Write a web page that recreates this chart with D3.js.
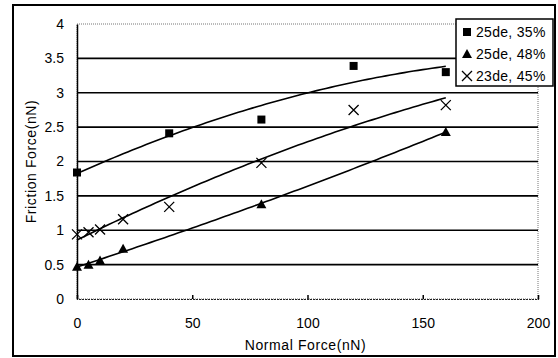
<!DOCTYPE html>
<html>
<head>
<meta charset="utf-8">
<script src="https://cdn.jsdelivr.net/npm/d3@7"></script>
<style>
  body { margin: 0; background: #fff; }
  svg { display: block; font-family: "Liberation Sans", Arial, sans-serif; }
</style>
</head>
<body>
<div id="chart"></div>
<script>
// data
const seriesNames = ['25de, 35%', '25de, 48%', '23de, 45%'];
const sqX = [0, 40, 80, 120, 160];
const sqY = [1.84, 2.41, 2.61, 3.39, 3.3];
const triX = [0, 5, 10, 20, 80, 160];
const triY = [0.47, 0.5, 0.56, 0.73, 1.38, 2.43];
const crossX = [0, 5, 10, 20, 40, 80, 120, 160];
const crossY = [0.94, 0.97, 1.01, 1.16, 1.34, 1.98, 2.75, 2.82];
const xTicks = [0, 50, 100, 150, 200];
const yTicks = [0, 0.5, 1, 1.5, 2, 2.5, 3, 3.5, 4];

const width = 558, height = 358;
const margin = { left: 77, right: 20, top: 24, bottom: 59 };

const svg = d3.select('#chart').append('svg')
  .attr('width', width)
  .attr('height', height);

const x = d3.scaleLinear().domain([0, 200]).range([margin.left, width - margin.right]);
const y = d3.scaleLinear().domain([0, 4]).range([height - margin.bottom, margin.top]);

// outer frame
svg.append('rect')
  .attr('x', 13).attr('y', 5)
  .attr('width', 542).attr('height', 351)
  .attr('fill', '#fff')
  .attr('stroke', '#000')
  .attr('stroke-width', 2);

// plot area border (dotted, like excel)
svg.append('rect')
  .attr('x', x(0)).attr('y', y(4))
  .attr('width', x(200) - x(0)).attr('height', y(0) - y(4))
  .attr('fill', 'none')
  .attr('stroke', '#777')
  .attr('stroke-dasharray', '1,1');

// horizontal gridlines
svg.append('g')
  .selectAll('line')
  .data(yTicks.filter(d => d > 0 && d < 4))
  .join('line')
  .attr('x1', x(0)).attr('x2', x(200))
  .attr('y1', d => y(d)).attr('y2', d => y(d))
  .attr('stroke', '#000')
  .attr('stroke-width', 1.6);

// y axis
const yAxis = svg.append('g')
  .attr('transform', `translate(${x(0)},0)`)
  .call(d3.axisLeft(y).tickValues(yTicks).tickSize(0).tickPadding(13)
    .tickFormat(d => d3.format('')(d)));
yAxis.select('.domain').attr('stroke', '#000').attr('stroke-width', 1.5);
yAxis.selectAll('text')
  .attr('fill', '#000')
  .style('font-size', '14px')
  .style('font-family', '"Liberation Sans", Arial, sans-serif');

// x axis
const xAxis = svg.append('g')
  .attr('transform', `translate(0,${y(0)})`)
  .call(d3.axisBottom(x).tickValues(xTicks).tickSize(-4).tickPadding(19));
xAxis.select('.domain').attr('stroke', '#222').attr('stroke-width', 1.2).attr('stroke-dasharray', '2,1');
xAxis.selectAll('.tick line').attr('stroke', '#000').attr('stroke-width', 1.5);
xAxis.selectAll('text')
  .attr('fill', '#000')
  .style('font-size', '14px')
  .style('font-family', '"Liberation Sans", Arial, sans-serif');

// axis titles
svg.append('text')
  .attr('x', (x(0) + x(200)) / 2 - 2)
  .attr('y', 350)
  .attr('text-anchor', 'middle')
  .style('font-size', '14px')
  .style('letter-spacing', '0.6px')
  .text('Normal Force(nN)');

svg.append('text')
  .attr('transform', `translate(36,${(y(0) + y(4)) / 2}) rotate(-90)`)
  .attr('text-anchor', 'middle')
  .style('font-size', '14px')
  .style('letter-spacing', '0.6px')
  .text('Friction Force(nN)');

// quadratic least-squares trend line, like the excel polynomial trendline
function polyfit2(xs, ys) {
  const n = xs.length;
  let s = [0, 0, 0, 0, 0], t = [0, 0, 0];
  for (let i = 0; i < n; i++) {
    let p = 1;
    for (let k = 0; k < 5; k++) { s[k] += p; if (k < 3) t[k] += p * ys[i]; p *= xs[i]; }
  }
  const A = [[s[0], s[1], s[2]], [s[1], s[2], s[3]], [s[2], s[3], s[4]]];
  const b = t.slice();
  // gaussian elimination
  for (let i = 0; i < 3; i++) {
    for (let j = i + 1; j < 3; j++) {
      const f = A[j][i] / A[i][i];
      for (let k = i; k < 3; k++) A[j][k] -= f * A[i][k];
      b[j] -= f * b[i];
    }
  }
  const c = [0, 0, 0];
  for (let i = 2; i >= 0; i--) {
    let v = b[i];
    for (let k = i + 1; k < 3; k++) v -= A[i][k] * c[k];
    c[i] = v / A[i][i];
  }
  return v => c[0] + c[1] * v + c[2] * v * v;
}

const series = [
  { xs: sqX, ys: sqY, shape: 'square' },
  { xs: triX, ys: triY, shape: 'triangle' },
  { xs: crossX, ys: crossY, shape: 'cross' }
];

const line = d3.line().x(d => x(d[0])).y(d => y(d[1]));

series.forEach(s => {
  const f = polyfit2(s.xs, s.ys);
  const lo = d3.min(s.xs), hi = d3.max(s.xs);
  const pts = d3.range(0, 81).map(i => {
    const v = lo + (hi - lo) * i / 80;
    return [v, f(v)];
  });
  svg.append('path')
    .datum(pts)
    .attr('d', line)
    .attr('fill', 'none')
    .attr('stroke', '#000')
    .attr('stroke-width', 1.6);
});

function drawMarker(g, shape, cx, cy) {
  if (shape === 'square') {
    g.append('rect').attr('x', cx - 4).attr('y', cy - 4).attr('width', 8).attr('height', 8).attr('fill', '#000');
  } else if (shape === 'triangle') {
    g.append('path').attr('d', `M${cx},${cy - 5}L${cx + 5},${cy + 4}L${cx - 5},${cy + 4}Z`).attr('fill', '#000');
  } else {
    g.append('path').attr('d', `M${cx - 5},${cy - 5}L${cx + 5},${cy + 5}M${cx + 5},${cy - 5}L${cx - 5},${cy + 5}`)
      .attr('stroke', '#000').attr('stroke-width', 1.3).attr('fill', 'none');
  }
}

series.forEach(s => {
  const g = svg.append('g');
  s.xs.forEach((v, i) => drawMarker(g, s.shape, x(v), y(s.ys[i])));
});

// legend
const legend = svg.append('g');
legend.append('rect')
  .attr('x', 456).attr('y', 19)
  .attr('width', 97).attr('height', 67)
  .attr('fill', '#fff')
  .attr('stroke', '#000')
  .attr('stroke-width', 1.5);
series.forEach((s, i) => {
  const ly = 32 + i * 22;
  drawMarker(legend, s.shape, 467, ly);
  legend.append('text')
    .attr('x', 476)
    .attr('y', ly)
    .attr('dy', '0.36em')
    .style('font-size', '14px')
    .style('letter-spacing', '0.3px')
    .text(seriesNames[i]);
});
</script>
</body>
</html>
